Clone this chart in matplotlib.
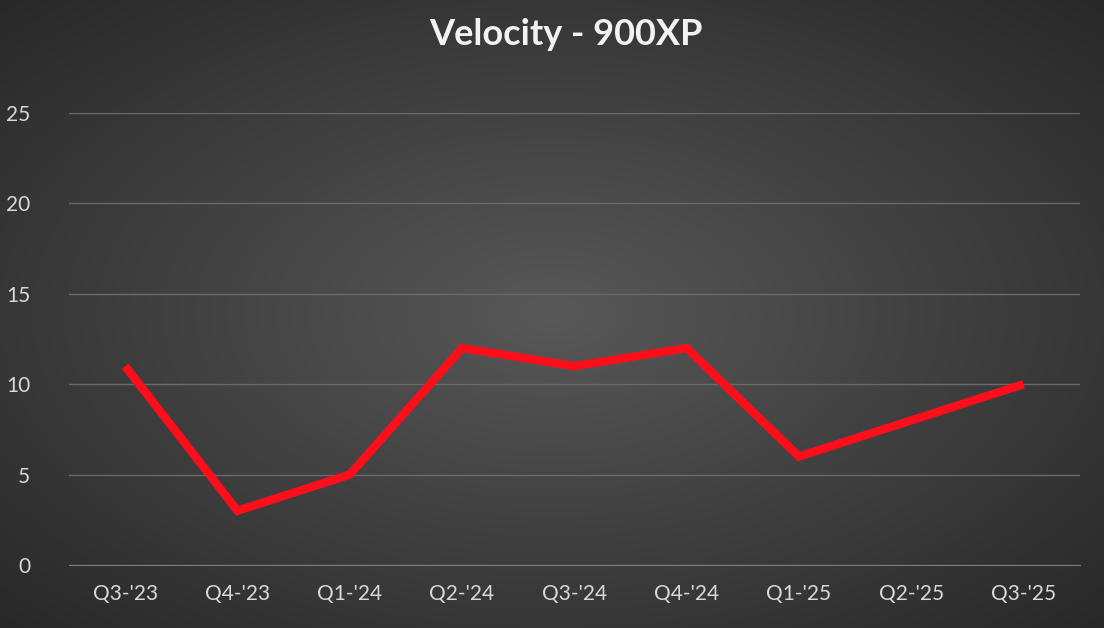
import matplotlib.pyplot as plt
import numpy as np

quarters = ["Q3-'23", "Q4-'23", "Q1-'24", "Q2-'24", "Q3-'24", "Q4-'24", "Q1-'25", "Q2-'25", "Q3-'25"]
velocity = [11, 3, 5, 12, 11, 12, 6, 8, 10]
yticks = [0, 5, 10, 15, 20, 25]

plt.rcParams['font.family'] = ['Lato', 'DejaVu Sans']

fig = plt.figure(figsize=(11.04, 6.28), dpi=100)

# radial gradient background
bg = fig.add_axes([0, 0, 1, 1])
xx, yy = np.meshgrid(np.linspace(-1, 1, 400), np.linspace(-1, 1, 300))
r = np.clip(np.sqrt(xx**2 + yy**2) / 1.414, 0, 1)
light, dark = np.array([0x58, 0x58, 0x58]) / 255, np.array([0x28, 0x28, 0x28]) / 255
img = light[None, None, :] * (1 - r[..., None]) + dark[None, None, :] * r[..., None]
bg.imshow(img, aspect='auto', extent=[0, 1, 0, 1])
bg.axis('off')

ax = fig.add_axes([0.0625, 0.1003, 0.9155, 0.7197])
ax.patch.set_alpha(0)
x = np.arange(len(quarters))
ax.plot(x, velocity, color='#ff0d1a', lw=6, solid_joinstyle='miter',
        solid_capstyle='butt', zorder=3)
ax.set_xlim(-0.5, len(quarters) - 0.5)
ax.set_ylim(0, 25)
ax.set_yticks(yticks)
ax.set_xticks(x)
ax.set_xticklabels(quarters)
ax.grid(axis='y', color='#6a6a6a', lw=1)
ax.tick_params(colors='#d9d9d9', labelsize=15, length=0)
ax.tick_params(axis='x', pad=14)
ax.tick_params(axis='y', pad=28)
for s in ax.spines.values():
    s.set_visible(False)
ax.spines['bottom'].set_visible(True)
ax.spines['bottom'].set_color('#7a7a7a')

fig.text(0.513, 0.945, 'Velocity - 900XP', ha='center', va='center',
         color='#f2f2f2', fontsize=26, fontweight='bold')

fig.savefig('out.png', dpi=100)
